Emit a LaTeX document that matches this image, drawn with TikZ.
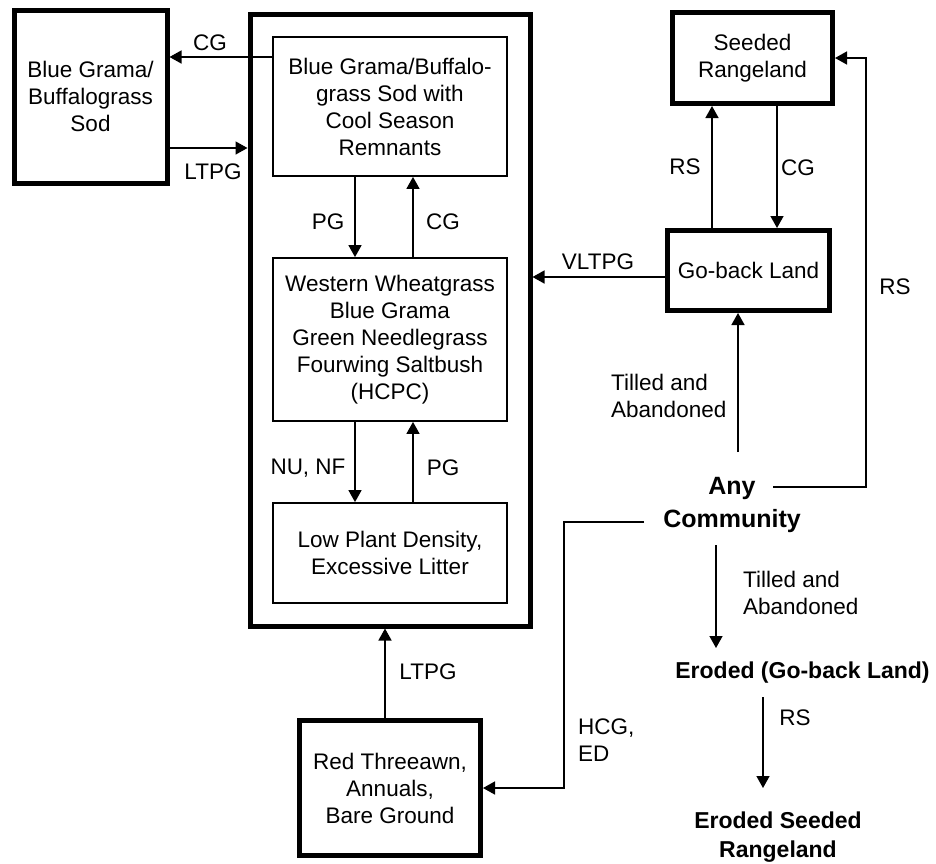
\documentclass[tikz,border=0pt]{standalone}
\usepackage{fontspec}
\setmainfont{Liberation Sans}
\usetikzlibrary{arrows.meta,calc}
\begin{document}
\begin{tikzpicture}[x=1pt,y=-1pt,
  every node/.style={font=\fontsize{22.5}{27}\selectfont, inner sep=0pt},
  thickbox/.style={draw, line width=5pt, align=center},
  thinbox/.style={draw, line width=1.8pt, align=center},
  arr/.style={line width=1.5pt, -{Triangle[length=12pt,width=13pt]}},
  lbl/.style={align=left},
  boldlbl/.style={font=\fontsize{23}{29}\selectfont\bfseries, align=center}
]
\useasboundingbox (0,0) rectangle (936,863);

% boxes
\node[thickbox, minimum width=153, minimum height=173] (lb) at (90.5,96.5) {Blue Grama/\\Buffalograss\\Sod};
\node[thickbox, minimum width=280, minimum height=612] (big) at (390,320) {};
\node[thinbox, minimum width=234, minimum height=139] (i1) at (390,106.5) {Blue Grama/Buffalo-\\grass Sod with\\Cool Season\\Remnants};
\node[thinbox, minimum width=234, minimum height=163] (i2) at (390,339.5) {Western Wheatgrass\\Blue Grama\\Green Needlegrass\\Fourwing Saltbush\\(HCPC)};
\node[thinbox, minimum width=234, minimum height=100] (i3) at (390,553) {Low Plant Density,\\Excessive Litter};
\node[thickbox, minimum width=181, minimum height=135] (red) at (390,788) {Red Threeawn,\\Annuals,\\Bare Ground};
\node[thickbox, minimum width=160, minimum height=91] (sr) at (752.5,58) {Seeded\\Rangeland};
\node[thickbox, minimum width=162, minimum height=80] (gb) at (748.5,270.5) {Go-back Land};

\node[font=\fontsize{25}{33}\selectfont\bfseries, align=center] (ac) at (732,505) {Any\\Community};
\node[boldlbl] (er) at (802.5,673) {Eroded (Go-back Land)};
\node[boldlbl] (es) at (778,837) {Eroded Seeded\\Rangeland};

% connectors
\draw[arr] ([yshift=49.5pt]i1.west) coordinate (a1) -- (a1 -| lb.east);
\draw[arr] ([yshift=-51.5pt]lb.east) coordinate (a2) -- (a2 -| big.west);
\draw[arr] ([xshift=-35pt]i1.south) -- ([xshift=-35pt]i2.north);
\draw[arr] ([xshift=23pt]i2.north) -- ([xshift=23pt]i1.south);
\draw[arr] ([xshift=-35pt]i2.south) -- ([xshift=-35pt]i3.north);
\draw[arr] ([xshift=23pt]i3.north) -- ([xshift=23pt]i2.south);
\draw[arr] ([xshift=-5pt]red.north) -- ([xshift=-5pt]big.south);
\draw[arr] ([xshift=-36.5pt]gb.north) coordinate (a3) -- (a3 |- sr.south);
\draw[arr] ([xshift=24.5pt]sr.south) coordinate (a4) -- (a4 |- gb.north);
\draw[arr] ([yshift=-6.5pt]gb.west) coordinate (a5) -- (a5 -| big.east);

\coordinate (t1) at (738,452);
\draw[arr] (t1) -- (t1 |- gb.south);
\coordinate (r1) at (773,487);
\coordinate (r2) at (866,487);
\draw[arr] (r1) -- (r2) |- (sr.east);
\coordinate (h1) at (644,522);
\coordinate (h2) at (564,522);
\draw[arr] (h1) -- (h2) |- (red.east);
\coordinate (d1) at (716,545);
\coordinate (d2) at (716,648);
\draw[arr] (d1) -- (d2);
\coordinate (d3) at (763,697);
\coordinate (d4) at (763,788);
\draw[arr] (d3) -- (d4);

% labels
\node (l1) at (210,43) {CG};
\node (l2) at (213,172) {LTPG};
\node (l3) at (328,222) {PG};
\node (l4) at (443,222) {CG};
\node (l5) at (308,468) {NU, NF};
\node (l6) at (443,468) {PG};
\node (l7) at (428,672) {LTPG};
\node[lbl, anchor=west] (l8) at (578,740) {HCG,\\ED};
\node (l9) at (598,262) {VLTPG};
\node (l10) at (685,167) {RS};
\node (l11) at (798,168) {CG};
\node (l12) at (895,287) {RS};
\node[lbl, anchor=west] (l13) at (611,396) {Tilled and\\Abandoned};
\node[lbl, anchor=west] (l14) at (743,593) {Tilled and\\Abandoned};
\node (l15) at (795,718) {RS};
\end{tikzpicture}
\end{document}
